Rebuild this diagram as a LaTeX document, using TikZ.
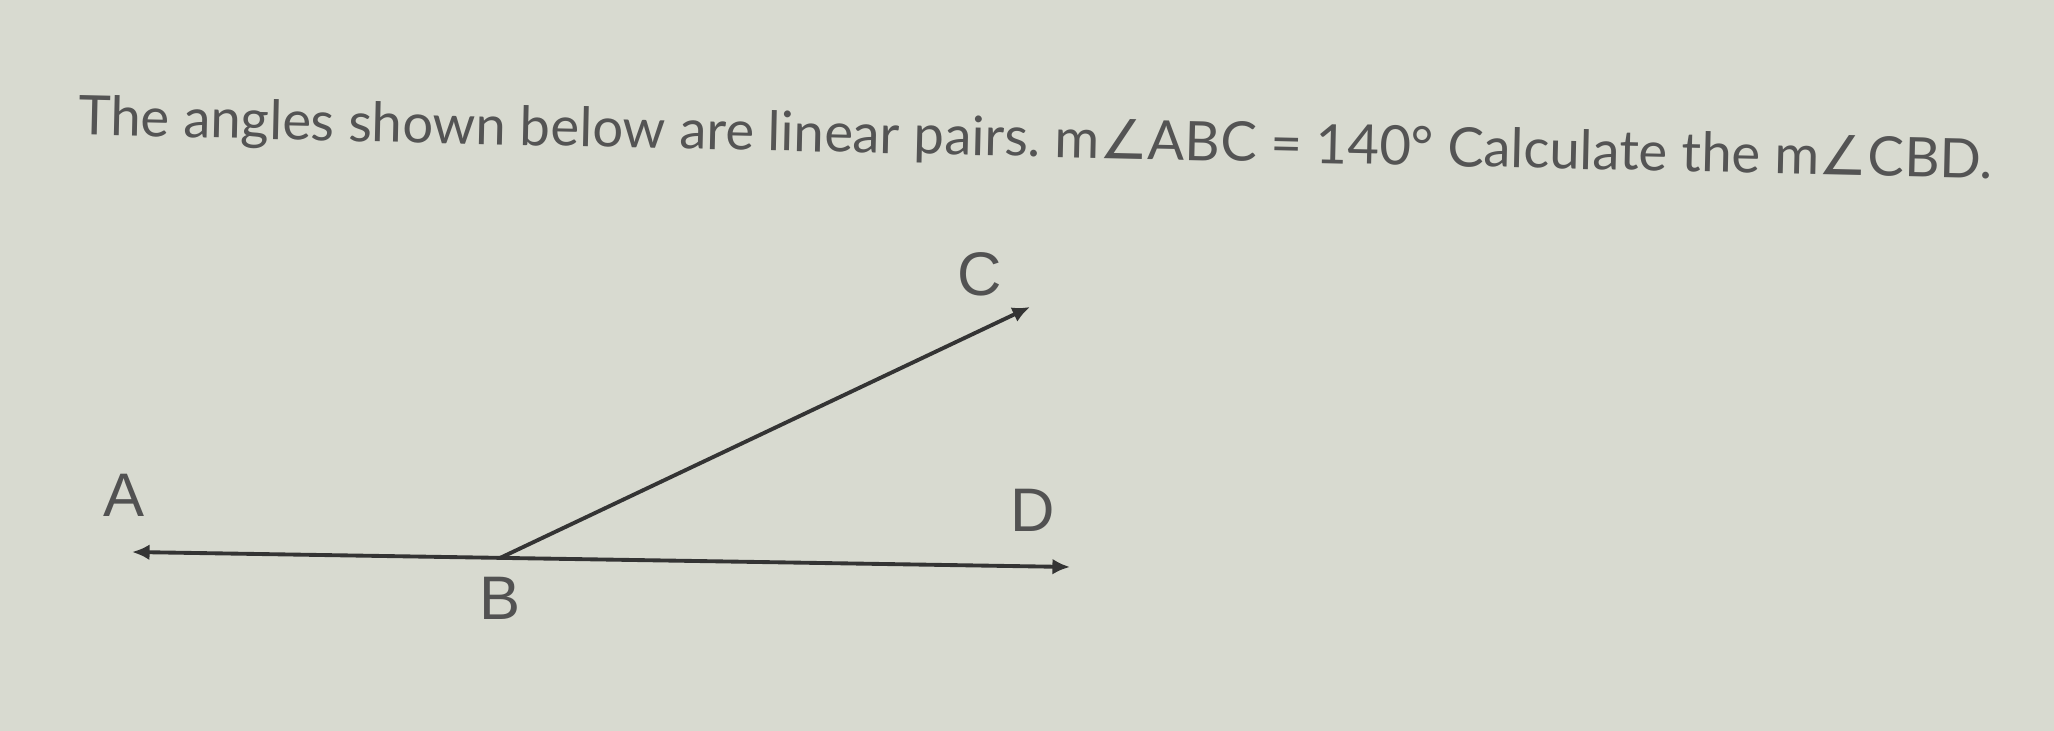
\documentclass[tikz,border=0pt]{standalone}
\usepackage{fontspec}
\setmainfont{Lato}
\newfontfamily\labelfont{Liberation Sans}
\newfontfamily\symfont{DejaVu Sans}
\usetikzlibrary{arrows.meta}
\definecolor{paper}{RGB}{216,218,208}
\definecolor{ink}{RGB}{52,52,52}
\definecolor{print}{RGB}{84,84,84}
\newcommand{\angsym}{{\symfont\char"2220}}
\frenchspacing

\begin{document}
\begin{tikzpicture}[
	ray/.style={line width=1.1pt, draw=ink, arrows={Latex[length=5pt,width=4.5pt]-Latex[length=5pt,width=4.5pt]}},
	pt/.style={font=\labelfont\fontsize{17.5}{20}\selectfont, text=ink!85, inner sep=0pt}]
	\fill [paper] (0,0) rectangle (20.54,7.31);
	\useasboundingbox (0,0) rectangle (20.54,7.31);
	\node (title) [anchor=base west, rotate=-1.3, inner sep=0pt, text=print, font=\fontsize{15.5}{18}\selectfont] at (0.78,5.96)
		{The angles shown below are linear pairs. m\angsym ABC = 140° Calculate the m\angsym CBD.};
	\coordinate (a) at (1.32,1.79);
	\coordinate (b) at (5.00,1.73);
	\coordinate (c) at (10.30,4.24);
	\coordinate (d) at (10.70,1.64);
	\draw [ray] (a) -- (d);
	\draw [ray, arrows={-Latex[length=5pt,width=4.5pt]}] (b) -- (c);
	\node (A) [pt] at (1.24,2.36) {A};
	\node (B) [pt] at (5.00,1.33) {B};
	\node (C) [pt] at (9.80,4.57) {C};
	\node (D) [pt] at (10.33,2.21) {D};
\end{tikzpicture}
\end{document}
